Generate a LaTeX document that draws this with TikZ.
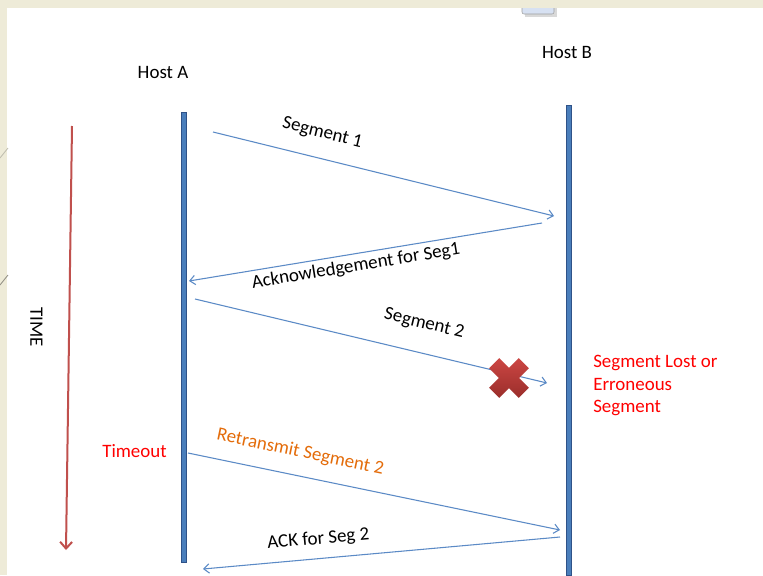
\documentclass[tikz,border=0pt]{standalone}
\usepackage{fontspec}
\setmainfont{Carlito}
\usepackage{xcolor}
\usetikzlibrary{arrows.meta}

\definecolor{msgblue}{HTML}{5B8AC6}
\definecolor{lineblue}{HTML}{4A7EBB}
\definecolor{lineedge}{HTML}{2F5288}
\definecolor{timered}{HTML}{C0504D}
\definecolor{notered}{HTML}{FF0000}
\definecolor{retxorange}{HTML}{E46C0A}
\definecolor{slidebeige}{HTML}{EEEBD8}
\definecolor{tabblue}{HTML}{D7E1F2}
\definecolor{crosslight}{HTML}{CC4643}
\definecolor{crossdark}{HTML}{9A2E2B}

\begin{document}
\begin{tikzpicture}[
  x=0.75pt, y=-0.75pt,
  font=\fontsize{14.2}{17}\selectfont,
  lifeline/.style={draw=lineedge, fill=lineblue, line width=0.5pt, minimum width=3.75pt, inner sep=0pt},
  host/.style={inner sep=0pt},
  msg/.style={-{Straight Barb[length=4pt,width=7pt]}, line width=0.8pt, msgblue},
  msglabel/.style={sloped, inner sep=0pt, black},
  timearrow/.style={-{Straight Barb[length=5pt,width=9pt]}, line width=1.5pt, timered},
  note/.style={notered, inner sep=0pt, align=left}
]

\useasboundingbox (0,0) rectangle (763,575);
\fill[white] (0,0) rectangle (763,575);
\fill[black!15] (525,0) rectangle (557,17);
\draw[gray!75, fill=tabblue, rounded corners=1.5pt] (522,-3) rectangle (554,14);
\fill[slidebeige] (0,0) rectangle (763,8);
\fill[slidebeige] (0,0) rectangle (7,575);
\draw[black!20!slidebeige, line width=0.6pt] (0,158) -- (8,148);
\draw[black!40!slidebeige, line width=0.6pt] (0,285) -- (8,275);

\node[host] (hosta) at (163,72) {Host A};
\node[host] (hostb) at (567,52) {Host B};

\node[lifeline, minimum height=337.5pt] (linea) at (183.5,337) {};
\node[lifeline, minimum height=352.5pt] (lineb) at (568.5,340) {};

\coordinate (timetop) at (72,126);
\coordinate (timebot) at (66,550);
\draw[timearrow] (timetop) -- (timebot);
\node[rotate=-90, inner sep=0pt] (timelbl) at (36.5,327) {TIME};

\coordinate (seg1src) at (213,132);
\coordinate (seg1dst) at (554,216);
\coordinate (ack1src) at (542,223);
\coordinate (ack1dst) at (189,281);
\coordinate (seg2src) at (195,299);
\coordinate (seg2dst) at (547,383);
\coordinate (retxsrc) at (188,453);
\coordinate (retxdst) at (560,530);
\coordinate (ack2src) at (560,537);
\coordinate (ack2dst) at (203,569);

\draw[msg] (seg1src) -- node[msglabel, pos=0.303, above=12.5pt] (seg1lbl) {Segment 1} (seg1dst);
\draw[msg] (ack1src) -- node[msglabel, pos=0.533, below=3pt] (ack1lbl) {Acknowledgement for Seg1} (ack1dst);
\draw[msg] (seg2src) -- node[msglabel, pos=0.632, above=15.5pt] (seg2lbl) {Segment 2} (seg2dst);
\draw[msg] (retxsrc) -- node[msglabel, pos=0.289, above=11pt, text=retxorange] (retxlbl) {Retransmit Segment 2} (retxdst);
\draw[msg] (ack2src) -- node[msglabel, pos=0.672, above=8pt] (ack2lbl) {ACK for Seg 2} (ack2dst);

\shade[top color=crosslight, bottom color=crossdark, shift={(509,378)}, scale=1.1]
  (0,9.19) -- (-8.84,18.03) -- (-18.03,8.84) -- (-9.19,0) -- (-18.03,-8.84) -- (-8.84,-18.03)
  -- (0,-9.19) -- (8.84,-18.03) -- (18.03,-8.84) -- (9.19,0) -- (18.03,8.84) -- (8.84,18.03) -- cycle;

\node[note, anchor=west] (lostnote) at (593,385.5) {Segment Lost or\\Erroneous\\Segment};
\node[note] (timeout) at (134.5,451) {Timeout};

\end{tikzpicture}
\end{document}
